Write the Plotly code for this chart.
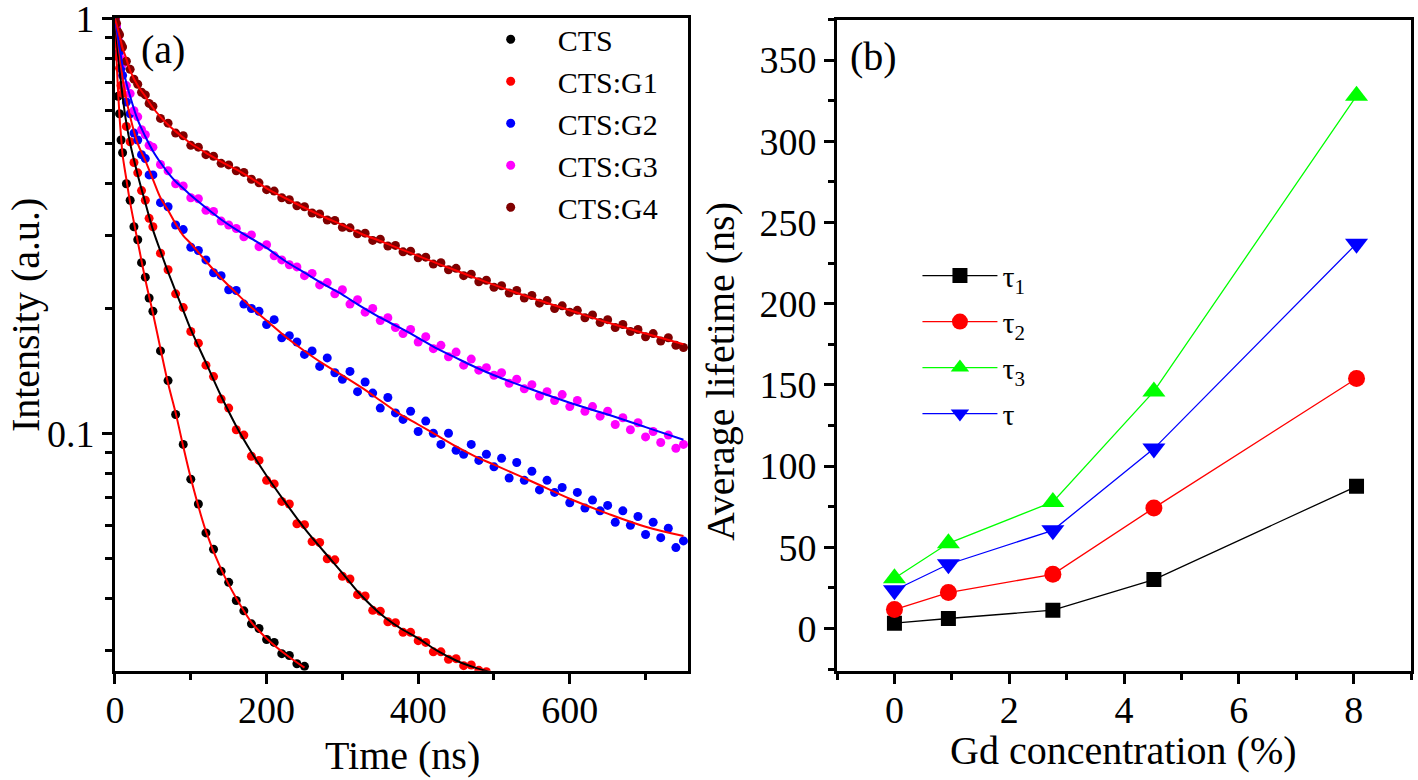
import plotly.graph_objects as go

# ---- (a) decay curves: sampled time grid (ns) ----
T_EARLY = [0, 2, 4, 6, 8, 10, 15, 20, 25, 30, 35, 40, 45]
T_SCATTER = T_EARLY + list(range(50, 760, 10))

CTS = [1.0, 0.82, 0.65, 0.59, 0.51, 0.475, 0.40, 0.365, 0.315, 0.293, 0.258, 0.238, 0.212,
       0.197, 0.158, 0.134, 0.111, 0.094, 0.0775, 0.0675, 0.0575, 0.0525, 0.0465,
       0.0437, 0.0395, 0.0373, 0.0347, 0.0338, 0.0318, 0.0313, 0.0294, 0.0291, 0.0278, 0.0274]

CTS_G1 = [1.0, 0.91, 0.81, 0.76, 0.69, 0.66, 0.55, 0.505, 0.45, 0.425, 0.385, 0.365, 0.33,
          0.315, 0.272, 0.248, 0.217, 0.201, 0.176, 0.165, 0.146, 0.137, 0.121,
          0.115, 0.102, 0.099, 0.088, 0.086, 0.077, 0.0755, 0.0685, 0.0675, 0.0605,
          0.0602, 0.0548, 0.0545, 0.0498, 0.0495, 0.0452, 0.0445, 0.0408, 0.0405, 0.0374,
          0.0372, 0.0351, 0.0349, 0.0331, 0.0331, 0.0316, 0.0313, 0.0297, 0.0297, 0.0285,
          0.0286, 0.0275, 0.0276, 0.0268, 0.0266]

CTS_G2 = [1.0, 0.95, 0.87, 0.83, 0.76, 0.73, 0.63, 0.59, 0.53, 0.51, 0.47, 0.46, 0.42,
          0.42, 0.36, 0.352, 0.318, 0.31, 0.281, 0.276, 0.262, 0.244, 0.24,
          0.222, 0.221, 0.205, 0.2, 0.197, 0.183, 0.188, 0.17, 0.172, 0.166,
          0.155, 0.158, 0.145, 0.152, 0.14, 0.135, 0.141, 0.126, 0.133, 0.125,
          0.115, 0.122, 0.112, 0.108, 0.113, 0.101, 0.107, 0.1, 0.094, 0.1,
          0.091, 0.089, 0.094, 0.086, 0.089, 0.083, 0.087, 0.078, 0.085, 0.077,
          0.081, 0.073, 0.077, 0.072, 0.074, 0.068, 0.072, 0.066, 0.069, 0.065,
          0.067, 0.061, 0.065, 0.06, 0.063, 0.057, 0.061, 0.056, 0.059, 0.053,
          0.055]

CTS_G3 = [1.0, 0.96, 0.89, 0.86, 0.80, 0.78, 0.69, 0.66, 0.60, 0.58, 0.54, 0.525, 0.495,
          0.49, 0.445, 0.43, 0.40, 0.395, 0.37, 0.368, 0.345, 0.343, 0.325,
          0.318, 0.312, 0.298, 0.301, 0.282, 0.285, 0.268, 0.262, 0.255, 0.252,
          0.24, 0.243, 0.228, 0.231, 0.217, 0.222, 0.205, 0.21, 0.196, 0.2,
          0.187, 0.19, 0.18, 0.174, 0.178, 0.166, 0.171, 0.16, 0.163, 0.153,
          0.157, 0.146, 0.151, 0.142, 0.144, 0.138, 0.14, 0.132, 0.135, 0.128,
          0.131, 0.123, 0.126, 0.12, 0.124, 0.116, 0.12, 0.113, 0.116, 0.11,
          0.113, 0.105, 0.109, 0.102, 0.106, 0.098, 0.101, 0.095, 0.099, 0.092,
          0.094]

CTS_G4 = [1.0, 0.975, 0.93, 0.915, 0.87, 0.855, 0.79, 0.755, 0.715, 0.695, 0.665, 0.655, 0.625,
          0.615, 0.575, 0.56, 0.53, 0.522, 0.495, 0.49, 0.47, 0.466, 0.448,
          0.444, 0.43, 0.426, 0.41, 0.402, 0.387, 0.384, 0.37, 0.366, 0.354,
          0.352, 0.34, 0.338, 0.327, 0.326, 0.314, 0.313, 0.303, 0.304, 0.292,
          0.294, 0.283, 0.284, 0.274, 0.275, 0.265, 0.266, 0.256, 0.258, 0.248,
          0.25, 0.24, 0.242, 0.232, 0.234, 0.225, 0.227, 0.218, 0.221, 0.212,
          0.215, 0.206, 0.209, 0.2, 0.203, 0.196, 0.198, 0.19, 0.193, 0.185,
          0.188, 0.18, 0.183, 0.176, 0.178, 0.171, 0.174, 0.167, 0.17, 0.163,
          0.161]

# fitted curves
FIT_T = [0, 2, 4, 6, 8, 10, 15, 20, 30, 40, 50, 60, 70, 80, 90, 100, 120, 140, 160, 180,
         200, 225, 250, 275, 300, 325, 350, 375, 400, 425, 450, 475, 500, 550, 600, 650, 700, 750]

FIT_CTS = [1.0, 0.80, 0.67, 0.58, 0.52, 0.47, 0.41, 0.36, 0.29, 0.235, 0.195, 0.16, 0.132,
           0.112, 0.093, 0.078, 0.058, 0.047, 0.040, 0.035, 0.032, 0.0293, 0.0272]
FIT_G1 = [1.0, 0.90, 0.82, 0.75, 0.70, 0.65, 0.56, 0.50, 0.42, 0.36, 0.31, 0.275, 0.245,
          0.22, 0.198, 0.178, 0.148, 0.123, 0.104, 0.09, 0.079, 0.068, 0.059, 0.052, 0.046,
          0.0406, 0.0367, 0.034, 0.032, 0.0299, 0.0283, 0.0272, 0.0264]
FIT_G2 = [1.0, 0.94, 0.88, 0.82, 0.77, 0.72, 0.64, 0.58, 0.50, 0.455, 0.41, 0.37, 0.345,
          0.32, 0.30, 0.287, 0.26, 0.237, 0.218, 0.201, 0.187, 0.171, 0.158, 0.147, 0.138,
          0.129, 0.12, 0.1115, 0.105, 0.0988, 0.093, 0.088, 0.084, 0.0765, 0.0695, 0.064,
          0.0595, 0.0565]
FIT_G3 = [1.0, 0.95, 0.90, 0.85, 0.81, 0.77, 0.70, 0.65, 0.57, 0.52, 0.48, 0.45, 0.425,
          0.405, 0.39, 0.375, 0.35, 0.328, 0.31, 0.295, 0.28, 0.26, 0.244, 0.229, 0.216,
          0.202, 0.19, 0.18, 0.17, 0.16, 0.152, 0.1445, 0.138, 0.1275, 0.1185, 0.111,
          0.1035, 0.0965]
FIT_G4 = [1.0, 0.97, 0.94, 0.91, 0.88, 0.85, 0.80, 0.75, 0.69, 0.65, 0.61, 0.58, 0.555,
          0.535, 0.517, 0.50, 0.475, 0.452, 0.433, 0.412, 0.39, 0.369, 0.35, 0.333, 0.318,
          0.303, 0.291, 0.279, 0.268, 0.257, 0.247, 0.237, 0.228, 0.212, 0.198, 0.185,
          0.174, 0.164]

# ---- (b) lifetimes vs Gd concentration ----
GD = [0, 0.94, 2.76, 4.52, 8.05]
TAU1 = [3.3, 6.2, 11.3, 30.2, 87.6]
TAU2 = [11.7, 22.2, 33.4, 74.3, 154]
TAU3 = [31, 52.5, 78, 146, 328]
TAU = [23.6, 39.6, 60.5, 110.8, 237]

FONT = "Liberation Serif, Times New Roman, serif"

fig = go.Figure()

# scatter data (a)
sets = [
    ("CTS", CTS, "#000000"),
    ("CTS:G1", CTS_G1, "#FF0000"),
    ("CTS:G2", CTS_G2, "#0000FF"),
    ("CTS:G3", CTS_G3, "#FF00FF"),
    ("CTS:G4", CTS_G4, "#800000"),
]
for name, vals, col in sets:
    fig.add_trace(go.Scatter(
        x=T_SCATTER[:len(vals)], y=vals, mode="markers", name=name,
        marker=dict(color=col, size=9), xaxis="x", yaxis="y", legend="legend"
    ))

# fit lines (a)
fits = [
    (FIT_CTS, "#FF0000"),
    (FIT_G1, "#000000"),
    (FIT_G2, "#FF0000"),
    (FIT_G3, "#0000FF"),
    (FIT_G4, "#FF0000"),
]
for vals, col in fits:
    fig.add_trace(go.Scatter(
        x=FIT_T[:len(vals)], y=vals, mode="lines", line=dict(color=col, width=2, shape="spline"),
        showlegend=False, xaxis="x", yaxis="y", hoverinfo="skip"
    ))

# (b) lifetimes
series_b = [
    ("τ<sub>1</sub>", TAU1, "#000000", "square", 15),
    ("τ<sub>2</sub>", TAU2, "#FF0000", "circle", 17),
    ("τ<sub>3</sub>", TAU3, "#00FF00", "triangle-up", 20),
    ("τ", TAU, "#0000FF", "triangle-down", 20),
]
for i, (name, vals, col, sym, sz) in enumerate(series_b):
    fig.add_trace(go.Scatter(
        x=GD, y=vals, mode="lines+markers", name=name,
        line=dict(color=col, width=1.3),
        marker=dict(color=col, symbol=sym, size=sz),
        xaxis="x2", yaxis="y2", legend="legend2", legendgroup=f"g{i}"
    ))

axis_common = dict(
    showline=True, linecolor="black", linewidth=3, mirror=True,
    ticks="outside", ticklen=10, tickwidth=2.5, tickcolor="black",
    showgrid=False, zeroline=False, automargin=False, ticklabeloverflow="allow",
    tickfont=dict(family=FONT, size=38, color="black"),
)

def label(text, x, y, angle=0):
    return dict(text=text, x=x, y=y, xref="paper", yref="paper", showarrow=False,
                xanchor="center", yanchor="middle", textangle=angle,
                font=dict(family=FONT, size=40, color="black"))

fig.update_layout(
    width=1418, height=780,
    margin=dict(l=0, r=0, t=0, b=0),
    paper_bgcolor="white", plot_bgcolor="white",
    font=dict(family=FONT, color="black"),
    xaxis=dict(
        domain=[0.0811, 0.4852], range=[0, 756], anchor="y",
        tickvals=[0, 200, 400, 600], ticklabelstandoff=-6,
        minor=dict(tickvals=[100, 300, 500, 700], ticks="outside", ticklen=6,
                   tickwidth=2.5, tickcolor="black"),
        **axis_common
    ),
    yaxis=dict(
        domain=[0.14, 0.977], type="log", range=[-1.573, 0.002], anchor="x",
        tickvals=[0.1, 1], ticktext=["0.1", "1"],
        minor=dict(tickvals=[0.03, 0.04, 0.05, 0.06, 0.07, 0.08, 0.09,
                             0.2, 0.3, 0.4, 0.5, 0.6, 0.7, 0.8, 0.9],
                   ticks="outside", ticklen=7, tickwidth=2.5, tickcolor="black"),
        **axis_common
    ),
    xaxis2=dict(
        domain=[0.5903, 0.9951], range=[-1, 9], anchor="y2",
        tickvals=[0, 2, 4, 6, 8], ticklabelstandoff=-6,
        minor=dict(tickvals=[-1, 1, 3, 5, 7, 9], ticks="outside", ticklen=6,
                   tickwidth=2.5, tickcolor="black"),
        **axis_common
    ),
    yaxis2=dict(
        domain=[0.14, 0.975], range=[-26, 375], anchor="x2",
        tickvals=[0, 50, 100, 150, 200, 250, 300, 350],
        minor=dict(tickvals=[-25, 25, 75, 125, 175, 225, 275, 325, 375], ticks="outside",
                   ticklen=6, tickwidth=2.5, tickcolor="black"),
        **axis_common
    ),
    legend=dict(
        x=0.327, y=0.983, xanchor="left", yanchor="top",
        bgcolor="rgba(0,0,0,0)", itemwidth=84,
        font=dict(family=FONT, size=30, color="black"),
    ),
    legend2=dict(
        x=0.647, y=0.68, xanchor="left", yanchor="top",
        bgcolor="rgba(0,0,0,0)", itemwidth=75, tracegroupgap=4,
        font=dict(family=FONT, size=30, color="black"),
    ),
    annotations=[
        label("(a)", 0.115, 0.936),
        label("(b)", 0.616, 0.928),
        label("Intensity (a.u.)", 0.0176, 0.596, -90),
        label("Average lifetime (ns)", 0.5078, 0.523, -90),
        label("Time (ns)", 0.2835, 0.032),
        label("Gd concentration (%)", 0.792, 0.038),
    ],
)

fig.write_html("out.html", config={"displayModeBar": False},
               post_script="document.body.style.margin='0px';")
